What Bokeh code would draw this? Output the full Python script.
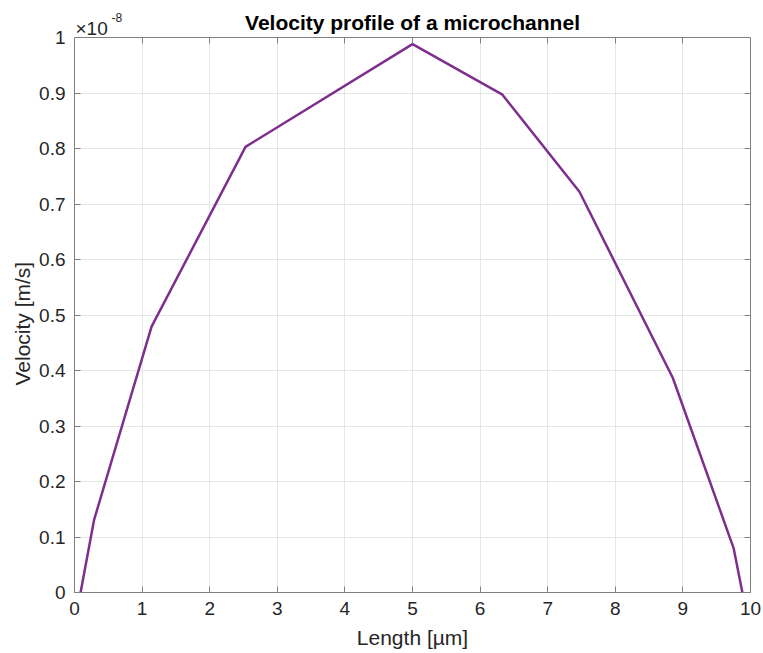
from bokeh.plotting import figure
from bokeh.models import (LinearAxis, Range1d, Label, FixedTicker, CustomJSTickFormatter,
                          BoxAnnotation, Title)
from bokeh.embed import file_html
from bokeh.resources import INLINE

# Data (velocity in units of 1e-8 m/s)
length_um = [0.09, 0.29, 1.14, 2.53, 5.00, 6.33, 7.47, 8.85, 9.75, 9.88]
velocity_e8 = [0.0, 0.131, 0.479, 0.803, 0.988, 0.897, 0.722, 0.387, 0.080, 0.0]
x_ticks = [0, 1, 2, 3, 4, 5, 6, 7, 8, 9, 10]
y_ticks = [0, 0.1, 0.2, 0.3, 0.4, 0.5, 0.6, 0.7, 0.8, 0.9, 1]
y_tick_labels = {0: "0", 1: "1"}
title_text = "Velocity profile of a microchannel"
x_label = "Length [µm]"
y_label = "Velocity [m/s]"

FONT = "Liberation Sans"
AX = "#262626"
BOX = "#808080"

# layout geometry (pixels): axes box from y=37 to y=592; frame extends up to y=10
W, H = 763, 653
TOP_BORDER, BOTTOM_BORDER = 10, 61
BOX_TOP = 37
frame_h = H - TOP_BORDER - BOTTOM_BORDER
y_end = frame_h / (frame_h - (BOX_TOP - TOP_BORDER))

p = figure(width=W, height=H, output_backend="svg", toolbar_location=None,
           x_range=Range1d(0, 10), y_range=Range1d(0, y_end),
           min_border_left=74, min_border_right=13, min_border_top=TOP_BORDER,
           min_border_bottom=BOTTOM_BORDER)
p.outline_line_color = None
p.background_fill_color = "white"
p.border_fill_color = "white"

p.xgrid.ticker = FixedTicker(ticks=x_ticks)
p.ygrid.ticker = FixedTicker(ticks=y_ticks)
p.grid.grid_line_color = "#e6e6e6"
p.grid.grid_line_width = 1

# white cover above the axes box (hides grid extension)
p.add_layout(BoxAnnotation(bottom=1, fill_color="white", fill_alpha=1.0,
                           line_color=None, level="underlay"))

p.line(length_um, velocity_e8, line_color="#7E2F8E", line_width=2.5)

for ax in (p.xaxis[0], p.yaxis[0]):
    ax.major_label_text_font = FONT
    ax.major_label_text_font_size = "19px"
    ax.major_label_text_color = AX
    ax.axis_label_text_font = FONT
    ax.axis_label_text_font_size = "21px"
    ax.axis_label_text_font_style = "normal"
    ax.axis_label_text_color = AX
    ax.axis_line_color = BOX
    ax.major_tick_line_color = BOX
    ax.major_tick_in = 6
    ax.major_tick_out = 0
    ax.minor_tick_line_color = None

p.xaxis[0].ticker = FixedTicker(ticks=x_ticks)
p.yaxis[0].ticker = FixedTicker(ticks=y_ticks)
p.yaxis[0].bounds = (0, 1)
p.yaxis[0].major_label_overrides = y_tick_labels
p.xaxis[0].axis_label = x_label
p.xaxis[0].major_label_standoff = 9
p.yaxis[0].major_label_standoff = 9
p.xaxis[0].axis_label_standoff = 8

# y-axis label as a side title, positioned along the axes box
ytitle = Title(text=y_label, align="left", offset=207, text_font=FONT,
               text_font_size="21px", text_font_style="normal", text_color=AX,
               standoff=6)
p.add_layout(ytitle, "left")

blank = CustomJSTickFormatter(code="return ''")
top = LinearAxis(ticker=FixedTicker(ticks=x_ticks), formatter=blank, fixed_location=1,
                 major_label_text_font_size="2px",
                 axis_line_color=BOX, major_tick_line_color=BOX, major_tick_in=6,
                 major_tick_out=0, minor_tick_line_color=None, major_label_standoff=0)
right = LinearAxis(ticker=FixedTicker(ticks=y_ticks), formatter=blank, bounds=(0, 1),
                   major_label_text_font_size="2px",
                   axis_line_color=BOX, major_tick_line_color=BOX, major_tick_in=6,
                   major_tick_out=0, minor_tick_line_color=None, major_label_standoff=0)
p.add_layout(top, "above")
p.add_layout(right, "right")

# title and exponent label
p.add_layout(Label(x=5, y=1, y_offset=15, text=title_text, text_font=FONT,
                   text_font_size="21px", text_font_style="bold", text_color="#000000",
                   text_align="center", text_baseline="alphabetic"))
p.add_layout(Label(x=0, y=1, x_offset=1, y_offset=9, text="×10", text_font=FONT,
                   text_font_size="19px", text_color=AX,
                   text_align="left", text_baseline="alphabetic"))
p.add_layout(Label(x=0, y=1, x_offset=37, y_offset=20, text="-8", text_font=FONT,
                   text_font_size="12px", text_color=AX,
                   text_align="left", text_baseline="alphabetic"))

open("out.html", "w").write(file_html(p, INLINE))
